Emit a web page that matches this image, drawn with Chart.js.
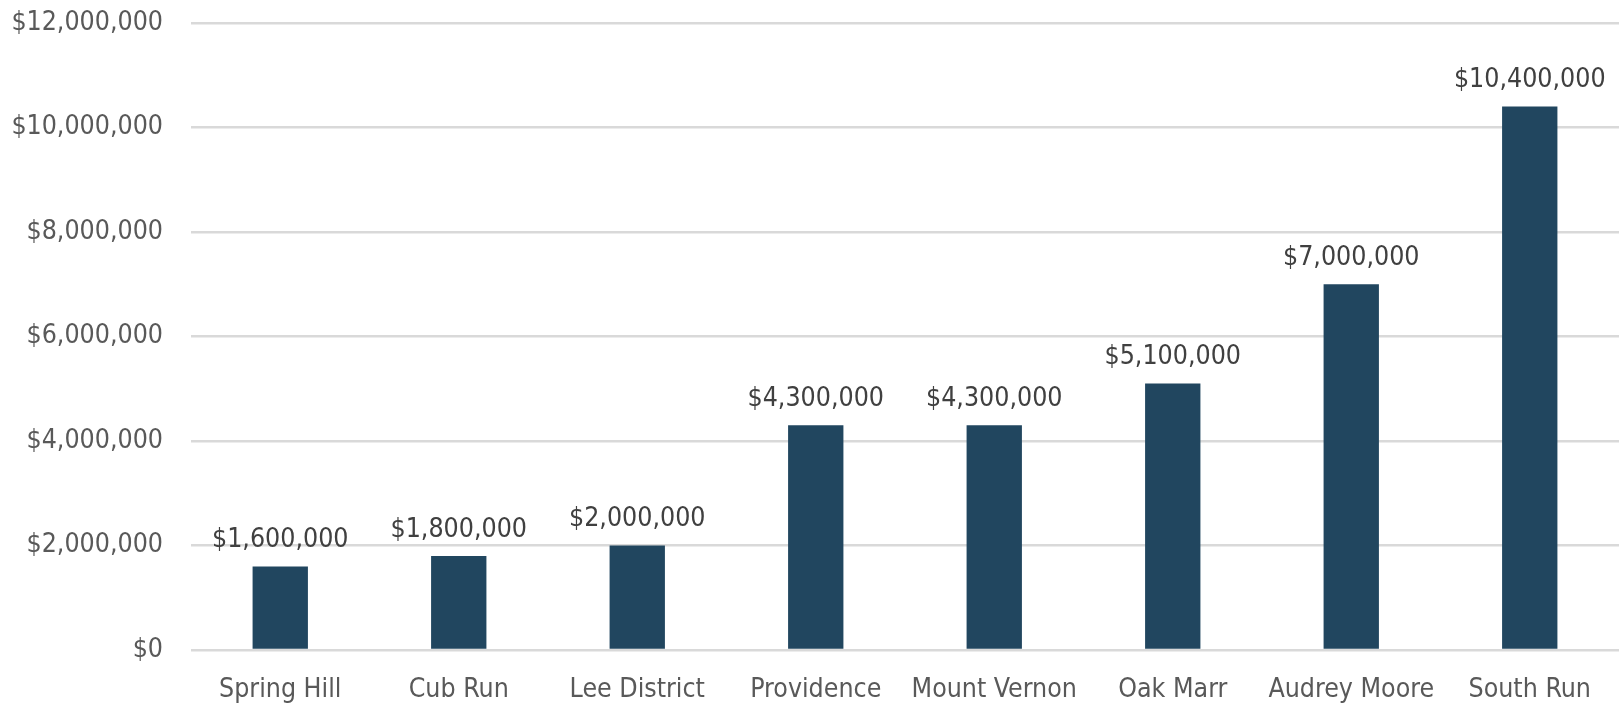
<!DOCTYPE html>
<html>
<head>
<meta charset="utf-8">
<script src="https://cdn.jsdelivr.net/npm/chart.js@4/dist/chart.umd.min.js"></script>
<style>
  html, body { margin: 0; padding: 0; background: #fff; }
  #wrap { width: 1619px; height: 706px; }
</style>
</head>
<body>
<div id="wrap"><canvas id="myChart" width="1619" height="706"></canvas></div>
<script>
const parks = ["Spring Hill", "Cub Run", "Lee District", "Providence", "Mount Vernon", "Oak Marr", "Audrey Moore", "South Run"];
const costs = [1600000, 1800000, 2000000, 4300000, 4300000, 5100000, 7000000, 10400000];
const yTicks = [0, 2000000, 4000000, 6000000, 8000000, 10000000, 12000000];

const fontFamily = "'Liberation Sans Narrow', 'DejaVu Sans Condensed', 'Arial Narrow', sans-serif";

function money(v) {
  return "$" + v.toLocaleString("en-US");
}

// draws the value above each bar (no datalabels plugin available offline)
const valueLabels = {
  id: "valueLabels",
  afterDatasetsDraw(chart) {
    const ctx = chart.ctx;
    const meta = chart.getDatasetMeta(0);
    ctx.save();
    ctx.font = "26.5px " + fontFamily;
    ctx.fillStyle = "#404040";
    ctx.textAlign = "center";
    ctx.textBaseline = "bottom";
    meta.data.forEach((bar, i) => {
      ctx.fillText(money(costs[i]), bar.x, bar.y - 13);
    });
    ctx.restore();
  }
};

const ctx = document.getElementById("myChart").getContext("2d");

const chart = new Chart(ctx, {
  type: "bar",
  data: {
    labels: parks,
    datasets: [{
      data: costs,
      backgroundColor: "#21465f",
      borderWidth: 0,
      barPercentage: 0.31,
      categoryPercentage: 1
    }]
  },
  options: {
    responsive: false,
    animation: false,
    layout: { padding: 0 },
    plugins: {
      legend: { display: false },
      tooltip: { enabled: false }
    },
    scales: {
      x: {
        grid: { display: false },
        border: { display: false },
        ticks: {
          color: "#595959",
          font: { family: fontFamily, size: 26.5 },
          padding: 16,
          maxRotation: 0,
          autoSkip: false
        },
        afterFit(scale) { scale.height = 56; }
      },
      y: {
        min: 0,
        max: 12000000,
        afterBuildTicks(scale) {
          scale.ticks = yTicks.map(v => ({ value: v }));
        },
        grid: { color: "#d9d9d9", lineWidth: 2.5, drawTicks: false },
        border: { display: false },
        ticks: {
          color: "#595959",
          font: { family: fontFamily, size: 26.5 },
          padding: 28,
          callback: v => money(v)
        },
        afterFit(scale) {
          scale.width = 191;
          scale.paddingTop = 23;
          scale.paddingBottom = 0;
        }
      }
    }
  },
  plugins: [valueLabels]
});
</script>
</body>
</html>
